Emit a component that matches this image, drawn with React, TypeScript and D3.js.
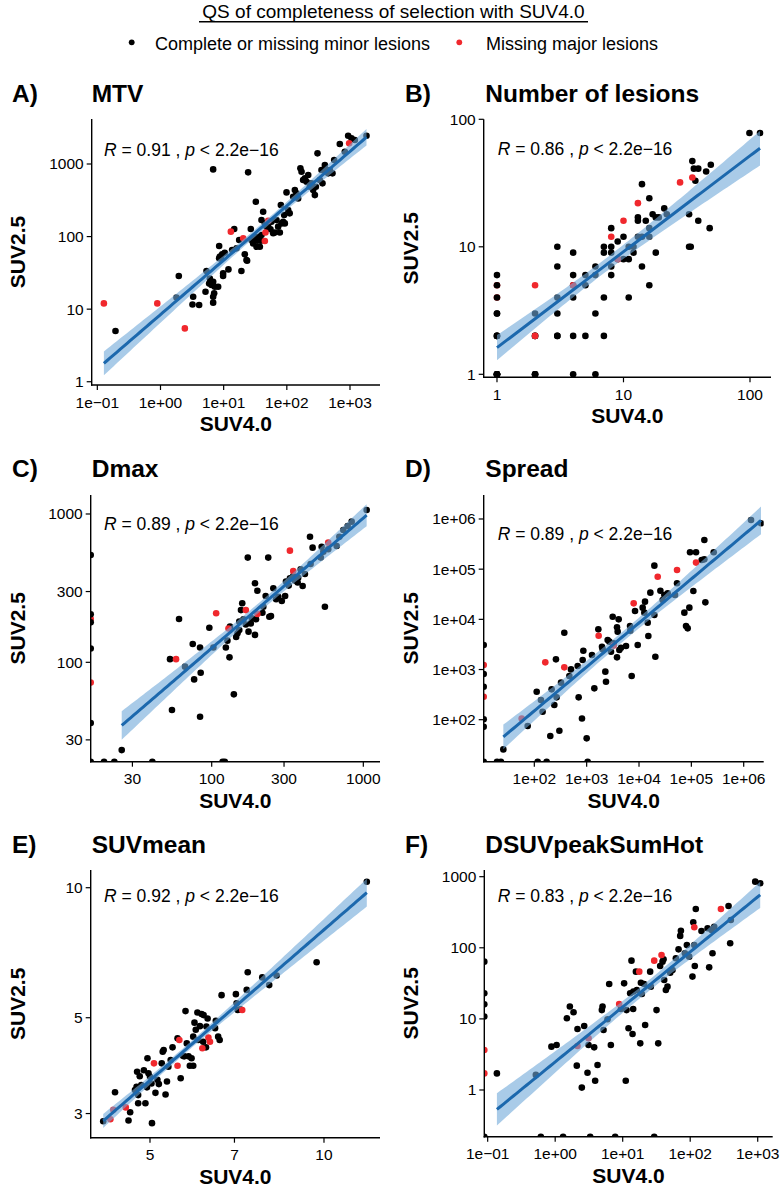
import React from "react";
import * as d3 from "d3";

type Pt = [number, number];

// ---------- DATA (0 = log(-Inf), drawn on the panel edge) ----------
const mtvBlack: Pt[] = [[0.194,4.99],[1.79,14.5],[1.95,28.6],[3.29,14.8],[3.21,11.6],[4.09,11.4],[5.16,17.4],[5.35,33.5],[5.89,22.6],[6.41,21.5],[6.82,23.9],[7.25,20.4],[6.04,26.5],[6.82,12.3],[6.82,14.8],[7.07,16.5],[8.18,20.4],[8.49,74],[6.82,843],[8.49,50.1],[8.7,52.9],[9.0,50.1],[9.47,56.9],[9.8,31.1],[9.8,28.6],[10.4,60],[11.9,35.3],[13.6,65.2],[14.7,127],[16.0,68.8],[17.6,89.6],[19.1,33.5],[21.6,56.9],[23,47.5],[23.5,46.5],[24.4,767],[26.9,127],[27.6,89.6],[29.3,80.6],[31.1,99.6],[32.3,302],[33.1,72.5],[33.9,87.7],[36,99.6],[37.4,72.5],[38.7,87.7],[39.7,105],[39.7,169],[42.2,220],[44.9,152],[47.6,137],[50.6,137],[55.1,126],[57.1,160],[60.8,111],[64.6,114],[68.6,169],[72.9,137],[77.5,114],[80.4,272],[82.4,152],[87.5,160],[90.8,198],[93,152],[98.9,406],[105,232],[111,209],[126,354],[134,438],[142,394],[151,336],[164,871],[171,783],[181,601],[193,634],[205,570],[218,705],[231,487],[246,541],[261,438],[278,373],[288,487],[306,1402],[333,601],[354,826],[367,541],[385,826],[400,968],[425,826],[451,743],[480,826],[528,743],[562,1135],[690,1884],[828,1476],[935,2455],[1056,2255],[1193,2138],[1825,2455]];
const mtvRed: Pt[] = [[0.127,12.0],[0.89,12.0],[2.43,5.43],[13.0,117],[20.4,94.5],[45.9,114],[44.9,86.8],[970,1925],[50.6,165]];

const lesBlack: Pt[] = [[1,1],[1,1],[1,1],[1,1],[1,1],[1,2],[1,2],[1,2],[1,3],[1,3],[1,4],[1,5],[1,6],[2,1],[2,1],[2,1],[2,3],[2,2],[2,2],[3,10],[3,7],[3,4],[3,3],[3,2],[3,2],[4,9],[4,6],[4,5],[4,4],[4,2],[4,1],[5,6],[5,5],[5,2],[6,7],[6,6],[6,3],[6,1],[7,10],[7,9],[7,4],[7,2],[8,14],[8,10],[8,9],[8,7],[8,6],[9,11],[9,8],[10,12],[10,8],[11,10],[11,8],[11,4],[12,9],[12,10],[13,17],[13,16],[13,12],[14,31],[14,7],[14,12],[15,16],[16,24],[16,12],[16,5],[16,14],[17,18],[18,17],[18,9],[19,17],[21,20],[22,18],[33,18],[33,10],[34,10],[35,47],[36,41],[37,33],[39,16],[39,41],[45,39],[49,44],[48,14],[99,78],[120,78]];
const lesRed: Pt[] = [[2,5],[2,2],[4,5],[8,12],[9,8],[10,16],[13,22],[28,32],[35,35]];
const lesRedHidden: Pt[] = [[1,5],[1,4]];

const dmaxBlack: Pt[] = [[0,529],[0,211],[0,186],[0,124],[0,39],[0,0],[19.5,0],[22.8,0],[40.6,0],[118,0],[122,0],[25.5,25.6],[54.7,47.7],[60.9,196],[53.1,105],[66.7,93.5],[75,133],[76.6,76.7],[83.8,43],[83.8,126],[84.6,85.1],[96.5,171],[102.6,126],[124,126],[127,140],[131,108],[132,174],[140,60.8],[145,148],[148,157],[152,165],[152,188],[156,225],[159,250],[162,195],[168,180],[173,508],[175,161],[181,183],[184,198],[193,153],[196,195],[193,341],[200,304],[216,216],[219,237],[227,280],[236,508],[240,203],[246,205],[255,316],[266,266],[275,277],[290,259],[305,280],[309,350],[322,329],[328,368],[345,382],[354,356],[369,345],[386,423],[372,372],[398,327],[412,394],[445,703],[449,460],[463,593],[531,602],[545,557],[558,237],[524,508],[587,578],[667,608],[695,703],[738,780],[788,830],[838,888],[1052,1064]];
const dmaxRed: Pt[] = [[58.2,105],[107,214],[129,169],[168,225],[200,212],[328,566],[345,413],[587,641]];
const dmaxRedHidden: Pt[] = [[0,196],[0,73]];

const spreadBlack: Pt[] = [[0,3076],[0,813],[0,455],[0,102],[0,72],[0,0],[19.4,0],[23,0],[116,0],[172,0],[1045,0],[25.6,25.6],[74.7,74.8],[111,361],[134,247],[144,144],[202,47.2],[214,403],[241,196],[259,1596],[267,279],[301,60.4],[324,547],[374,5418],[467,741],[502,1006],[703,279],[673,1175],[814,106],[839,1545],[864,2371],[1000,42.5],[1264,1947],[1401,421],[1671,6324],[1963,2852],[2021,2525],[2274,906],[2340,572],[2518,3875],[2711,3589],[2918,2266],[3142,11300],[3283,3326],[3800,1750],[3800,6935],[3913,5680],[4087,10000],[4208,2450],[4531,2724],[5649,2939],[6734,7362],[6829,5947],[7245,741],[8391,14660],[9441,3076],[11750,17100],[13020,22500],[12650,13580],[14650,8588],[15080,4653],[16470,34000],[19650,117500],[19650,12190],[20520,1802],[25610,37200],[28340,24300],[30470,30560],[35290,32960],[48730,30560],[53230,52300],[73500,13580],[79070,7362],[85100,6620],[91630,17100],[94300,216800],[109200,36750],[122800,216800],[157500,152300],[177000,381000],[177000,157000],[185200,21800],[267300,216800],[1380000,955000],[2142000,820000]];
const spreadRed: Pt[] = [[57.3,106],[162,1390],[374,1104],[1694,4719],[3283,3000],[7907,20840],[22770,70800],[53230,96200],[122800,135000]];
const spreadRedHidden: Pt[] = [[0,1230],[0,287]];

const meanBlack: Pt[] = [[4.15,2.88],[4.35,3.36],[4.62,3.02],[4.59,2.89],[4.71,3.40],[4.74,3.46],[4.75,3.75],[4.77,3.31],[4.77,3.17],[4.80,3.66],[4.83,3.49],[4.88,3.78],[4.91,3.17],[4.94,3.45],[4.95,4.03],[4.97,3.72],[5.0,3.65],[5.03,3.52],[5.04,2.85],[5.11,3.35],[5.15,3.59],[5.18,3.51],[5.24,3.92],[5.26,4.17],[5.28,4.21],[5.32,3.32],[5.35,3.56],[5.38,3.85],[5.43,3.99],[5.47,4.27],[5.58,4.48],[5.65,3.62],[5.70,4.08],[5.73,4.07],[5.76,5.18],[5.79,4.36],[5.83,4.07],[5.86,3.87],[5.90,4.03],[5.94,3.87],[5.94,4.52],[5.97,4.87],[6.0,4.69],[6.04,5.14],[6.06,4.44],[6.10,4.78],[6.14,5.10],[6.18,4.40],[6.19,5.07],[6.25,4.27],[6.26,4.77],[6.29,4.98],[6.48,4.73],[6.50,4.92],[6.56,4.52],[6.60,4.44],[6.65,5.64],[7.04,5.67],[7.06,5.40],[7.09,5.21],[7.16,5.23],[7.35,5.80],[7.38,6.37],[7.82,6.20],[8.04,5.95],[8.28,6.26],[9.71,6.72],[11.86,10.32]];
const meanRed: Pt[] = [[4.27,2.91],[4.32,3.06],[4.54,3.10],[5.08,3.92],[5.58,3.87],[5.62,4.44],[6.16,4.25],[6.31,4.50],[6.35,4.40],[7.22,5.21]];

const peakBlack: Pt[] = [[0,63.8],[0,22.9],[0,16.0],[0,10.8],[0,0],[0.613,0],[1.31,0],[3.30,0],[7.74,0],[29.3,0],[0.137,1.71],[0.517,1.63],[0.88,4.07],[1.05,4.29],[1.49,10.2],[1.65,14.9],[1.87,12.4],[2.14,7.21],[2.09,2.20],[2.48,1.08],[2.69,7.94],[3.01,1.75],[3.12,4.29],[3.78,3.98],[3.91,1.35],[4.24,2.25],[4.91,13.3],[5.03,14.9],[5.2,6.98],[5.96,9.86],[6.31,31.0],[6.68,4.29],[9.4,13.8],[10.5,31.6],[11.4,13.3],[11.1,1.35],[12.2,7.37],[12.9,22.9],[13.5,65.9],[14.0,6.13],[14.3,13.8],[14.4,24.2],[15.7,46.2],[16.2,25.5],[18.2,4.53],[18.6,32.3],[19.2,22.4],[20.8,31.0],[21.5,8.20],[25.5,46.2],[26.1,28.4],[31.7,13.3],[33.6,4.53],[35.9,55.5],[38.9,63.8],[40.3,68.9],[41.2,35.2],[43.6,25.5],[46.1,28.4],[50.6,44.7],[54.7,48.7],[61.3,71.1],[67.2,95.1],[71.1,147],[72.8,174],[83.4,83.6],[89.3,109],[96.6,75],[108,39.3],[111,228],[115,109],[117,55.5],[121,351],[147,172],[181,188],[191,53.1],[207,178],[214,83.6],[227,198],[370,387],[400,246],[391,116],[918,851],[1089,807]];
const peakRed: Pt[] = [[2.14,4.16],[3.12,5.33],[8.87,16.2],[17.6,46.2],[29.3,65.9],[37.6,79.2],[115,194],[285,351]];
const peakRedHidden: Pt[] = [[0,3.65],[0,1.71]];

const corrR = ["0.91", "0.86", "0.89", "0.89", "0.92", "0.83"];
const panelTitles = ["MTV", "Number of lesions", "Dmax", "Spread", "SUVmean", "DSUVpeakSumHot"];
const panelLetters = ["A)", "B)", "C)", "D)", "E)", "F)"];

const sciTicks = [0.1, 1, 10, 100, 1000];
const sciLabels = ["1e\u221201", "1e+00", "1e+01", "1e+02", "1e+03"];
const mtvYTicks = [1, 10, 100, 1000];
const lesTicks = [1, 10, 100];
const dmaxTicks = [30, 100, 300, 1000];
const spreadTicks = [1e2, 1e3, 1e4, 1e5, 1e6];
const spreadLabels = ["1e+02", "1e+03", "1e+04", "1e+05", "1e+06"];
const meanXTicks = [5, 7, 10];
const meanYTicks = [3, 5, 10];
const peakYTicks = [1, 10, 100, 1000];

const titleText = "QS of completeness of selection with SUV4.0";
const legendLabels = ["Complete or missing minor lesions", "Missing major lesions"];

// ---------- STYLE ----------
const FONT = "'Liberation Sans', Arial, Helvetica, sans-serif";
const BLACK = "#000000";
const RED = "#f0282d";
const LINE = "#1c68ad";
const BAND = "#6fa8d8";

// ---------- LAYOUT ----------
type Box = { l: number; r: number; t: number; b: number };
interface PanelDef {
  idx: number;
  black: Pt[];
  red: Pt[];
  hidden: Pt[];
  xt: number[]; xl: string[];
  yt: number[]; yl: string[];
  box: Box;
  xd: [number, number];
  yd: [number, number];
  col: number;
  headY: number;
  rY: number;
}

const str = (a: number[]) => a.map(String);

const panels: PanelDef[] = [
  { idx: 0, black: mtvBlack, red: mtvRed, hidden: [], xt: sciTicks, xl: sciLabels, yt: mtvYTicks, yl: str(mtvYTicks),
    box: { l: 91.7, r: 380, t: 119, b: 385 }, xd: [-1.089, 3.475], yd: [-0.045, 3.62], col: 0, headY: 101.7, rY: 156 },
  { idx: 1, black: lesBlack, red: lesRed, hidden: lesRedHidden, xt: lesTicks, xl: str(lesTicks), yt: lesTicks, yl: str(lesTicks),
    box: { l: 483.7, r: 771, t: 119.3, b: 377.3 }, xd: [-0.105, 2.166], yd: [-0.0235, 2.0], col: 1, headY: 101.7, rY: 155 },
  { idx: 2, black: dmaxBlack, red: dmaxRed, hidden: dmaxRedHidden, xt: dmaxTicks, xl: str(dmaxTicks), yt: dmaxTicks, yl: str(dmaxTicks),
    box: { l: 90.7, r: 380, t: 495, b: 761.7 }, xd: [1.202, 3.11], yd: [1.33, 3.128], col: 0, headY: 477.3, rY: 530 },
  { idx: 3, black: spreadBlack, red: spreadRed, hidden: spreadRedHidden, xt: spreadTicks, xl: spreadLabels, yt: spreadTicks, yl: spreadLabels,
    box: { l: 483.7, r: 763.7, t: 495, b: 761.7 }, xd: [1.033, 6.382], yd: [1.163, 6.478], col: 1, headY: 477.3, rY: 540 },
  { idx: 4, black: meanBlack, red: meanRed, hidden: [], xt: meanXTicks, xl: str(meanXTicks), yt: meanYTicks, yl: str(meanYTicks),
    box: { l: 90.7, r: 380, t: 870, b: 1137.7 }, xd: [0.5964, 1.0969], yd: [0.4212, 1.041], col: 0, headY: 852.7, rY: 902.3 },
  { idx: 5, black: peakBlack, red: peakRed, hidden: peakRedHidden, xt: sciTicks, xl: sciLabels, yt: peakYTicks, yl: str(peakYTicks),
    box: { l: 484.3, r: 772.7, t: 870, b: 1136.7 }, xd: [-1.05, 3.222], yd: [-0.657, 3.094], col: 1, headY: 852.7, rY: 902.3 },
];

// linear fit of log10(y) on log10(x) with 95% confidence band (finite values only)
function fitBand(points: Pt[]) {
  const f = points.filter(([x, y]) => x > 0 && y > 0).map(([x, y]) => [Math.log10(x), Math.log10(y)]);
  const n = f.length;
  const mx = d3.mean(f, (d) => d[0]) as number;
  const my = d3.mean(f, (d) => d[1]) as number;
  let sxx = 0, sxy = 0;
  f.forEach(([x, y]) => { sxx += (x - mx) ** 2; sxy += (x - mx) * (y - my); });
  const b = sxy / sxx;
  const a = my - b * mx;
  let sse = 0;
  f.forEach(([x, y]) => { sse += (y - a - b * x) ** 2; });
  const df = n - 2;
  const s = Math.sqrt(sse / df);
  const t = 1.959964 + 2.372 / df + 2.82 / (df * df);
  const [x0, x1] = d3.extent(f, (d) => d[0]) as [number, number];
  return d3.range(81).map((i) => {
    const x = x0 + ((x1 - x0) * i) / 80;
    const yh = a + b * x;
    const se = s * Math.sqrt(1 / n + (x - mx) ** 2 / sxx);
    return { x: 10 ** x, y: 10 ** yh, lo: 10 ** (yh - t * se), hi: 10 ** (yh + t * se) };
  });
}

function Panel({ p }: { p: PanelDef }) {
  const { box } = p;
  const xs = d3.scaleLog().domain([10 ** p.xd[0], 10 ** p.xd[1]]).range([box.l, box.r]);
  const ys = d3.scaleLog().domain([10 ** p.yd[0], 10 ** p.yd[1]]).range([box.b, box.t]);
  const px = (v: number) => (v <= 0 ? box.l : xs(v));
  const py = (v: number) => (v <= 0 ? box.b : ys(v));
  const all = [...p.hidden, ...p.black, ...p.red];
  const band = fitBand(all);
  const area = d3.area<any>().x((d) => xs(d.x)).y0((d) => ys(d.lo)).y1((d) => ys(d.hi));
  const line = d3.line<any>().x((d) => xs(d.x)).y((d) => ys(d.y));
  const clipId = `clip${p.idx}`;
  const colX = p.col === 0 ? 0 : 1;
  const letterX = colX ? 405 : 12;
  const titleX = colX ? 485.3 : 91.7;
  const rX = colX ? 497.7 : 104;
  const yTitleX = colX ? 418 : 25;
  const R = 3.3;
  return (
    <g>
      <defs>
        <clipPath id={clipId}>
          <rect x={box.l} y={box.t} width={box.r - box.l} height={box.b - box.t} />
        </clipPath>
      </defs>
      <text x={letterX} y={p.headY} fontSize={24.5} fontWeight="bold" fontFamily={FONT}>{panelLetters[p.idx]}</text>
      <text x={titleX} y={p.headY} fontSize={24.5} fontWeight="bold" fontFamily={FONT}>{panelTitles[p.idx]}</text>
      <g clipPath={`url(#${clipId})`}>
        {p.hidden.map((d, i) => <circle key={`h${i}`} cx={px(d[0])} cy={py(d[1])} r={R} fill={RED} />)}
        {p.black.map((d, i) => <circle key={`b${i}`} cx={px(d[0])} cy={py(d[1])} r={R} fill={BLACK} />)}
        {p.red.map((d, i) => <circle key={`r${i}`} cx={px(d[0])} cy={py(d[1])} r={R} fill={RED} />)}
        <path d={area(band) || ""} fill={BAND} fillOpacity={0.6} />
        <path d={line(band) || ""} fill="none" stroke={LINE} strokeWidth={3} />
      </g>
      <text x={rX} y={p.rY} fontSize={17.5} fontFamily={FONT}>
        <tspan fontStyle="italic">R</tspan>{` = ${corrR[p.idx]} , `}<tspan fontStyle="italic">p</tspan>{" < 2.2e\u221216"}
      </text>
      {/* axes */}
      <line x1={box.l} x2={box.l} y1={box.t} y2={box.b + 0.7} stroke="#000" strokeWidth={1.4} />
      <line x1={box.l - 0.7} x2={box.r} y1={box.b} y2={box.b} stroke="#000" strokeWidth={1.4} />
      {p.yt.map((v, i) => (
        <g key={`yt${i}`}>
          <line x1={box.l - 5} x2={box.l} y1={ys(v)} y2={ys(v)} stroke="#000" strokeWidth={1.2} />
          <text x={box.l - 8} y={ys(v) + 5.5} textAnchor="end" fontSize={15.5} fontFamily={FONT}>{p.yl[i]}</text>
        </g>
      ))}
      {p.xt.map((v, i) => (
        <g key={`xt${i}`}>
          <line x1={xs(v)} x2={xs(v)} y1={box.b} y2={box.b + 5} stroke="#000" strokeWidth={1.2} />
          <text x={xs(v)} y={box.b + 22.5} textAnchor="middle" fontSize={15.5} fontFamily={FONT}>{p.xl[i]}</text>
        </g>
      ))}
      <text x={(box.l + box.r) / 2} y={box.b + 46} textAnchor="middle" fontSize={21} fontWeight="bold" fontFamily={FONT}>SUV4.0</text>
      <text transform={`translate(${yTitleX},${(box.t + box.b) / 2}) rotate(-90)`} textAnchor="middle" fontSize={21} fontWeight="bold" fontFamily={FONT}>SUV2.5</text>
    </g>
  );
}

export default function App() {
  return (
    <svg width={782} height={1189} style={{ position: "absolute", left: 0, top: 0, background: "#fff" }}>
      <rect x={0} y={0} width={782} height={1189} fill="#fff" />
      <text x={393.5} y={18.3} textAnchor="middle" fontSize={19} fontFamily={FONT}>{titleText}</text>
      <line x1={199} x2={588} y1={21.8} y2={21.8} stroke="#000" strokeWidth={1.4} />
      <circle cx={131.7} cy={42.3} r={2.9} fill={BLACK} />
      <text x={155} y={50} fontSize={18} fontFamily={FONT}>{legendLabels[0]}</text>
      <circle cx={459.3} cy={42.3} r={2.9} fill={RED} />
      <text x={486} y={50} fontSize={18} fontFamily={FONT}>{legendLabels[1]}</text>
      {panels.map((p) => <Panel key={p.idx} p={p} />)}
    </svg>
  );
}
